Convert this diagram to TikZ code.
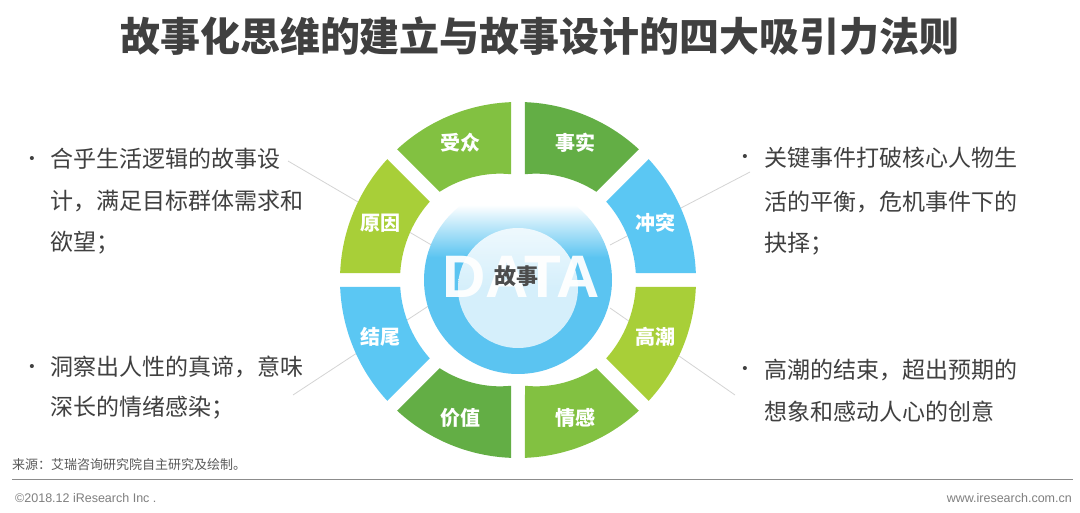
\documentclass[tikz,border=0pt]{standalone}
\usepackage{fontspec}
\setmainfont{Liberation Sans}
\newfontfamily\cjk{Noto Sans CJK SC}
\definecolor{cdg}{HTML}{63AE45}
\definecolor{cmg}{HTML}{82C141}
\definecolor{cyg}{HTML}{A8CF38}
\definecolor{cblue}{HTML}{5BC7F3}
\definecolor{dblue}{HTML}{5BC4F1}
\definecolor{txt}{HTML}{404040}
\definecolor{lead}{HTML}{D4D4D4}
\definecolor{foot}{HTML}{7F7F7F}
\definecolor{ldisk}{HTML}{D5EFFB}
\colorlet{ldisktop}{white!60!ldisk}
\pgfdeclareverticalshading{diskfade}{100bp}{color(0bp)=(dblue); color(56bp)=(dblue); color(70bp)=(white); color(100bp)=(white)}
\pgfdeclareverticalshading{innerfade}{100bp}{color(0bp)=(ldisk); color(50bp)=(ldisk); color(75bp)=(ldisktop); color(100bp)=(ldisktop)}
\begin{document}
\begin{tikzpicture}[x=1pt,y=1pt,
  body/.style={font=\cjk\fontsize{23}{28}\selectfont, text=txt, inner sep=0pt, anchor=base west},
  bul/.style={font=\fontsize{15}{18}\selectfont, text=txt, inner sep=0pt},
  seglab/.style={font=\cjk\bfseries\fontsize{20}{22}\selectfont, text=white, inner sep=0pt},
  leader/.style={draw=lead, line width=0.8pt}]
\useasboundingbox (0,0) rectangle (1080,512);
\fill[white] (0,0) rectangle (1080,512);

% title
\node[font=\cjk\bfseries\fontsize{40}{44}\selectfont, text=txt, inner sep=0pt] (title) at (540,476) {故事化思维的建立与故事设计的四大吸引力法则};

% leader lines (behind the wheel)
\coordinate (l1a) at (288,351); \coordinate (l1b) at (440,262);
\coordinate (l2a) at (293,117); \coordinate (l2b) at (430,207);
\coordinate (r1a) at (750,340); \coordinate (r1b) at (610,267);
\coordinate (r2a) at (735,117); \coordinate (r2b) at (610,204);
\draw[leader] (l1a) -- (l1b);
\draw[leader] (l2a) -- (l2b);
\draw[leader] (r1a) -- (r1b);
\draw[leader] (r2a) -- (r2b);

% wheel segments
\begin{scope}[shift={(518,232)}]
\foreach \a/\ra/\rb/\col/\lab/\nm in {0/118/118/cblue/冲突/sA, 45/118/106/cdg/事实/sB, 90/106/118/cmg/受众/sC, 135/118/118/cyg/原因/sD, 180/118/118/cblue/结尾/sE, 225/118/106/cdg/价值/sF, 270/106/118/cmg/情感/sG, 315/118/118/cyg/高潮/sH}{
  \pgfmathsetmacro{\oa}{\a+2.25}
  \pgfmathsetmacro{\ob}{\a+45-2.25}
  \pgfmathsetmacro{\ia}{\a+asin(7/\ra)}
  \pgfmathsetmacro{\ib}{\a+45-asin(7/\rb)}
  \pgfmathsetmacro{\md}{\a+22.5}
  \fill[\col] (\oa:178) arc[start angle=\oa, end angle=\ob, radius=178] -- (\ib:\rb) -- plot[variable=\q, domain=0:1, samples=16] ({\ib+(\ia-\ib)*\q}:{\rb+(\ra-\rb)*\q}) -- cycle;
  \node[seglab] (\nm) at (\md:149) {\lab};
}
\end{scope}

% centre
\shade[shading=diskfade] (518,232) circle[radius=94];
\shade[shading=innerfade] (518,224) circle[radius=60];
\node[font=\bfseries\fontsize{60}{60}\selectfont, text=white, text opacity=0.95, inner sep=0pt, anchor=base] (data) at (521,214) {DATA};
\node[font=\cjk\bfseries\fontsize{22}{24}\selectfont, text=black!70, inner sep=0pt] (core) at (516,236) {故事};

% left texts
\node[bul] (bl1) at (32,352) {•};
\node[body] (tl1a) at (50,344.5) {合乎生活逻辑的故事设};
\node[body] (tl1b) at (50,302.5) {计，满足目标群体需求和};
\node[body] (tl1c) at (50,261.5) {欲望；};
\node[bul] (bl2) at (32,144) {•};
\node[body] (tl2a) at (50,136.5) {洞察出人性的真谛，意味};
\node[body] (tl2b) at (50,96.5) {深长的情绪感染；};

% right texts
\node[bul] (br1) at (745,354) {•};
\node[body] (tr1a) at (764,345.5) {关键事件打破核心人物生};
\node[body] (tr1b) at (764,301.5) {活的平衡，危机事件下的};
\node[body] (tr1c) at (764,260.5) {抉择；};
\node[bul] (br2) at (745,142) {•};
\node[body] (tr2a) at (764,133.5) {高潮的结束，超出预期的};
\node[body] (tr2b) at (764,91.5) {想象和感动人心的创意};

% footer
\node[font=\cjk\fontsize{13}{15}\selectfont, text=black!65, inner sep=0pt, anchor=base west] (src) at (12,42) {来源：艾瑞咨询研究院自主研究及绘制。};
\coordinate (ruleL) at (12,32.7); \coordinate (ruleR) at (1073,32.7);
\draw[draw=black!45, line width=1.5pt] (ruleL) -- (ruleR);
\node[font=\fontsize{12.5}{14}\selectfont, text=foot, inner sep=0pt, anchor=base west] (copy) at (15,10) {©2018.12 iResearch Inc .};
\node[font=\fontsize{12.5}{14}\selectfont, text=foot, inner sep=0pt, anchor=base east] (web) at (1072,10) {www.iresearch.com.cn};
\end{tikzpicture}
\end{document}
